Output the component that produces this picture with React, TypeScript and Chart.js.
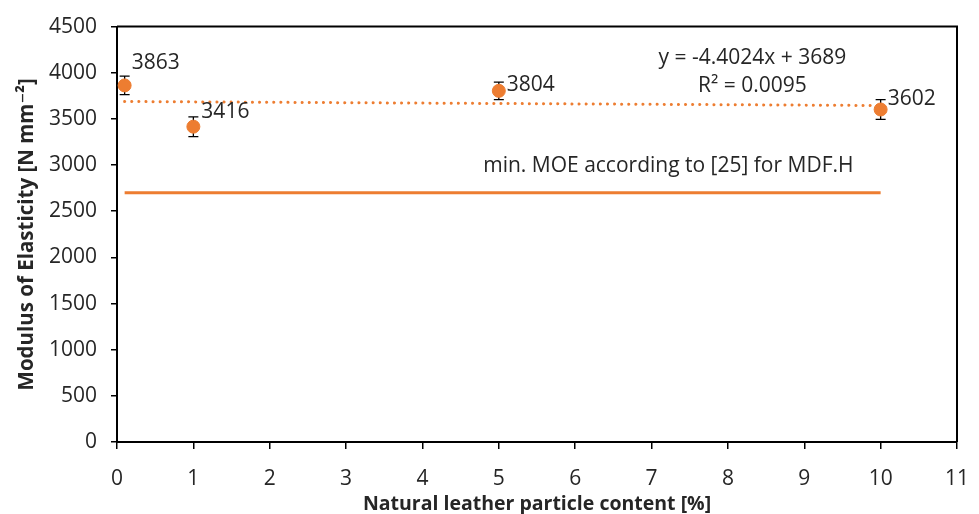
import React, { useEffect, useRef } from "react";
import { Chart, registerables } from "chart.js";

Chart.register(...registerables);

// Leather particle content [%] and mean modulus of elasticity [N mm^-2]
const contents = [0.1, 1, 5, 10];
const moeMeans = [3863, 3416, 3804, 3602];
const moeErrors = [100, 107, 95, 107];

// Linear trend fitted to the means
const trendSlope = -4.4024;
const trendIntercept = 3689;
const trendR2 = 0.0095;
const trendRange = [0.1, 10];

// Minimum requirement for MDF.H
const minMoe = 2700;
const minMoeRange = [0.1, 10];
const minMoeText = "min. MOE according to [25] for MDF.H";

const xTicks = { min: 0, max: 11, step: 1 };
const yTicks = { min: 0, max: 4500, step: 500 };

const ORANGE = "#ED7D31";
const FONT = "'Open Sans', 'DejaVu Sans', sans-serif";
const TEXT = "#262626";

// label offsets in pixels relative to each point
const labelOffsets = [
  [7, -22],
  [8, -15],
  [8, -6],
  [7, -10],
];

export default function App() {
  const ref = useRef<HTMLCanvasElement | null>(null);

  useEffect(() => {
    document.body.style.margin = "0";
    const canvas = ref.current;
    if (!canvas) return;

    const trendPts = trendRange.map((x) => ({ x, y: trendSlope * x + trendIntercept }));
    const minPts = minMoeRange.map((x) => ({ x, y: minMoe }));
    const meanPts = contents.map((x, i) => ({ x, y: moeMeans[i] }));

    const framePlugin = {
      id: "frame",
      afterDraw(chart: any) {
        const { ctx, chartArea } = chart;
        ctx.save();
        ctx.strokeStyle = "#000";
        ctx.lineWidth = 2;
        ctx.beginPath();
        ctx.moveTo(chartArea.left, chartArea.top);
        ctx.lineTo(chartArea.right, chartArea.top);
        ctx.lineTo(chartArea.right, chartArea.bottom);
        ctx.stroke();
        ctx.restore();
      },
    };

    const errorBarPlugin = {
      id: "errorBars",
      beforeDatasetsDraw(chart: any) {
        const { ctx } = chart;
        const xs = chart.scales.x;
        const ys = chart.scales.y;
        ctx.save();
        ctx.strokeStyle = "#000";
        ctx.lineWidth = 1.3;
        contents.forEach((c, i) => {
          const px = xs.getPixelForValue(c);
          const top = ys.getPixelForValue(moeMeans[i] + moeErrors[i]);
          const bot = ys.getPixelForValue(moeMeans[i] - moeErrors[i]);
          ctx.beginPath();
          ctx.moveTo(px, top);
          ctx.lineTo(px, bot);
          ctx.moveTo(px - 5, top);
          ctx.lineTo(px + 5, top);
          ctx.moveTo(px - 5, bot);
          ctx.lineTo(px + 5, bot);
          ctx.stroke();
        });
        ctx.restore();
      },
    };

    const textPlugin = {
      id: "texts",
      afterDatasetsDraw(chart: any) {
        const { ctx } = chart;
        const xs = chart.scales.x;
        const ys = chart.scales.y;
        ctx.save();
        ctx.fillStyle = TEXT;
        ctx.font = `21px ${FONT}`;
        ctx.textBaseline = "middle";
        ctx.textAlign = "left";
        contents.forEach((c, i) => {
          const px = xs.getPixelForValue(c);
          const py = ys.getPixelForValue(moeMeans[i]);
          ctx.fillText(String(moeMeans[i]), px + labelOffsets[i][0], py + labelOffsets[i][1]);
        });
        ctx.textAlign = "center";
        const sign = trendSlope < 0 ? "-" : "";
        ctx.fillText(
          `y = ${sign}${Math.abs(trendSlope)}x + ${trendIntercept}`,
          xs.getPixelForValue(8.32),
          ys.getPixelForValue(4160)
        );
        ctx.fillText(`R² = ${trendR2.toFixed(4)}`, xs.getPixelForValue(8.32), ys.getPixelForValue(3855));
        ctx.fillText(minMoeText, xs.getPixelForValue(7.22), ys.getPixelForValue(2995));
        ctx.restore();
      },
    };

    const chart = new Chart(canvas, {
      type: "scatter",
      data: {
        datasets: [
          {
            label: "MOE",
            data: meanPts,
            backgroundColor: ORANGE,
            borderColor: ORANGE,
            pointRadius: 6.5,
            pointHoverRadius: 6.5,
            order: 1,
          },
          {
            label: "Trend",
            type: "line",
            data: trendPts,
            borderColor: ORANGE,
            borderWidth: 3,
            borderDash: [0.1, 7],
            borderCapStyle: "round",
            pointRadius: 0,
            fill: false,
            order: 2,
          } as any,
          {
            label: "min MOE",
            type: "line",
            data: minPts,
            borderColor: ORANGE,
            borderWidth: 3,
            pointRadius: 0,
            fill: false,
            order: 3,
          } as any,
        ],
      },
      options: {
        responsive: false,
        animation: false,
        layout: { padding: { top: 23, right: 22, left: 0, bottom: 0 } },
        plugins: {
          legend: { display: false },
          tooltip: { enabled: false },
        },
        scales: {
          x: {
            type: "linear",
            min: xTicks.min,
            max: xTicks.max,
            afterFit(scale: any) {
              scale.height = 72;
              scale.paddingLeft = 0;
              scale.paddingRight = 22;
            },
            ticks: {
              stepSize: xTicks.step,
              color: TEXT,
              padding: 17,
              font: { family: FONT, size: 21 },
              callback: (v: any) => String(v),
            },
            grid: { drawOnChartArea: false, drawTicks: true, tickLength: 7, color: "#000", lineWidth: 1.5 },
            border: { display: true, color: "#000", width: 2 },
            title: {
              display: true,
              text: "Natural leather particle content [%]",
              color: TEXT,
              font: { family: FONT, size: 19.5, weight: "bold" },
              padding: { top: 0, bottom: -2 },
            },
          },
          y: {
            type: "linear",
            min: yTicks.min,
            max: yTicks.max,
            afterFit(scale: any) {
              scale.width = 117;
            },
            ticks: {
              stepSize: yTicks.step,
              color: TEXT,
              padding: 14,
              font: { family: FONT, size: 21 },
              callback: (v: any) => String(v),
            },
            grid: { drawOnChartArea: false, drawTicks: true, tickLength: 6, color: "#000", lineWidth: 1.5 },
            border: { display: true, color: "#000", width: 2 },
            title: {
              display: true,
              text: "Modulus of Elasticity [N mm⁻²]",
              color: TEXT,
              font: { family: FONT, size: 20.5, weight: "bold" },
              padding: { top: 15, bottom: 0 },
            },
          },
        },
      },
      plugins: [framePlugin, errorBarPlugin, textPlugin],
    });

    return () => chart.destroy();
  }, []);

  return (
    <div style={{ position: "fixed", left: 0, top: 0, width: 979, height: 514, background: "#fff" }}>
      <canvas ref={ref} width={979} height={514} />
    </div>
  );
}
